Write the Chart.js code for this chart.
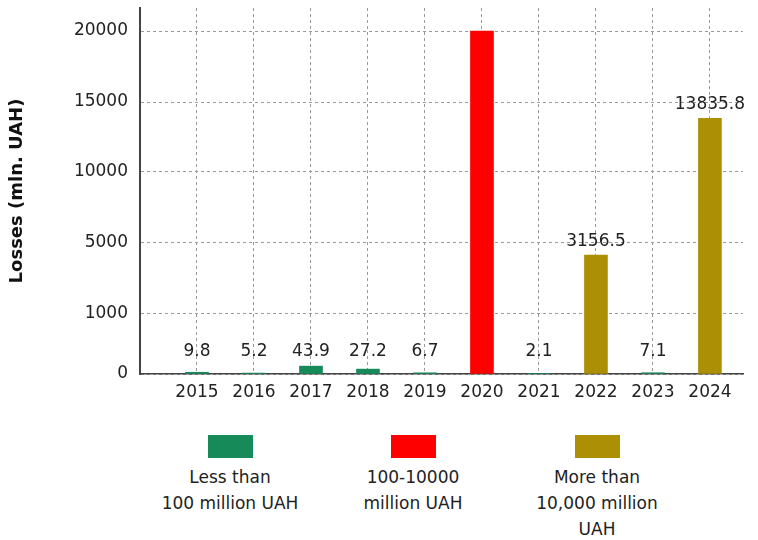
<!DOCTYPE html>
<html>
<head>
<meta charset="utf-8">
<script src="https://cdn.jsdelivr.net/npm/chart.js@4.4.1/dist/chart.umd.min.js"></script>
<style>
  body { margin: 0; background: #fff; font-family: "DejaVu Sans", sans-serif; }
  #wrap { position: relative; width: 758px; height: 540px; }
  #box { position: absolute; left: 0; top: 0; width: 758px; height: 410px; }
  #legend { position: absolute; left: 0; top: 435px; width: 758px; }
  .item { position: absolute; width: 200px; text-align: center; color: #222; font-size: 17px; line-height: 26px; }
  .swatch { width: 45px; height: 23px; margin: 0 auto 6px auto; }
</style>
</head>
<body>
<div id="wrap">
  <div id="box"><canvas id="myChart"></canvas></div>
  <div id="legend"></div>
</div>
<script>
  const years = [2015, 2016, 2017, 2018, 2019, 2020, 2021, 2022, 2023, 2024];
  const losses = [9.8, 5.2, 43.9, 27.2, 6.7, 20000, 2.1, 3156.5, 7.1, 13835.8];
  const valueText = ["9.8", "5.2", "43.9", "27.2", "6.7", "", "2.1", "3156.5", "7.1", "13835.8"];
  // группа для каждого года: 0 - меньше 100, 1 - 100-10000, 2 - больше 10000
  const groups = [0, 0, 0, 0, 0, 1, 0, 2, 0, 2];
  const groupLabels = ["Less than\n100 million UAH", "100-10000\nmillion UAH", "More than\n10,000 million\nUAH"];
  const groupColors = ["#178a5a", "#ff0000", "#ad8f05"];
  const yTicks = [0, 1000, 5000, 10000, 15000, 20000];

  // ось Y не линейная: значение -> доля высоты оси
  const yBreaks = [
    [0, 0], [100, 0.049], [1000, 0.164], [3000, 0.322],
    [5000, 0.358], [10000, 0.552], [15000, 0.743], [20000, 0.937], [21620, 1],
  ];

  function toShare(v) {
    for (let i = 1; i < yBreaks.length; i++) {
      const [v0, s0] = yBreaks[i - 1];
      const [v1, s1] = yBreaks[i];
      if (v <= v1 || i === yBreaks.length - 1) return s0 + ((v - v0) / (v1 - v0)) * (s1 - s0);
    }
  }
  function fromShare(s) {
    for (let i = 1; i < yBreaks.length; i++) {
      const [v0, s0] = yBreaks[i - 1];
      const [v1, s1] = yBreaks[i];
      if (s <= s1 || i === yBreaks.length - 1) return v0 + ((s - s0) / (s1 - s0)) * (v1 - v0);
    }
  }

  class BrokenScale extends Chart.LinearScale {
    buildTicks() {
      return yTicks.map((v) => ({ value: v }));
    }
    getPixelForValue(value) {
      return this.getPixelForDecimal(toShare(value));
    }
    getValueForPixel(pixel) {
      return fromShare(this.getDecimalForPixel(pixel));
    }
  }
  BrokenScale.id = "broken";
  BrokenScale.defaults = Chart.LinearScale.defaults;
  Chart.register(BrokenScale);

  const datasets = groupLabels.map((label, g) => ({
    label: label,
    data: years.map((y, i) => ({ x: y, y: losses[i] })).filter((p, i) => groups[i] === g),
    text: valueText.filter((t, i) => groups[i] === g),
    backgroundColor: groupColors[g],
    barThickness: 23,
    grouped: false,
  }));

  const valueLabels = {
    id: "valueLabels",
    afterDatasetsDraw(chart) {
      const ctx = chart.ctx;
      const base = chart.scales.y.getPixelForValue(0);
      ctx.save();
      ctx.font = "17px 'DejaVu Sans'";
      ctx.fillStyle = "#222";
      ctx.textAlign = "center";
      ctx.textBaseline = "middle";
      chart.data.datasets.forEach((ds, i) => {
        chart.getDatasetMeta(i).data.forEach((bar, j) => {
          const t = ds.text[j];
          if (!t) return;
          ctx.fillText(t, bar.x, Math.min(bar.y - 14, base - 22));
        });
      });
      ctx.restore();
    },
  };

  const gridColor = "#9a9a9a";
  const ctx = document.getElementById("myChart").getContext("2d");
  const myChart = new Chart(ctx, {
    type: "bar",
    data: { datasets: datasets },
    options: {
      responsive: true,
      maintainAspectRatio: false,
      animation: false,
      layout: { padding: { left: 0, right: 15, top: 8, bottom: 0 } },
      plugins: {
        legend: { display: false },
        tooltip: { enabled: false },
      },
      scales: {
        x: {
          type: "linear",
          min: 2014,
          max: 2024.58,
          offset: false,
          afterFit: (scale) => {
            scale.height = 36;
            scale.paddingLeft = 0;
            scale.paddingRight = 0;
          },
          grid: {
            offset: false,
            drawTicks: false,
            color: (c) => (c.tick && c.tick.value === 2014 ? "rgba(0,0,0,0)" : gridColor),
          },
          border: { color: "#444", width: 1.5, dash: [3, 3] },
          ticks: {
            stepSize: 1,
            includeBounds: false,
            autoSkip: false,
            maxRotation: 0,
            padding: 8,
            color: "#222",
            font: { family: "DejaVu Sans", size: 17 },
            callback: (v) => (v === 2014 ? "" : String(v)),
          },
        },
        y: {
          type: "broken",
          min: 0,
          max: 21620,
          afterFit: (scale) => {
            scale.width = 140;
            scale.paddingTop = 0;
            scale.paddingBottom = 0;
          },
          grid: { drawTicks: false, color: gridColor },
          border: { color: "#444", width: 2, dash: [3, 3] },
          ticks: {
            padding: 12,
            color: "#222",
            font: { family: "DejaVu Sans", size: 17 },
            callback: (v) => String(v),
          },
          title: {
            display: true,
            text: "Losses (mln. UAH)",
            color: "#111",
            font: { family: "DejaVu Sans", size: 18, weight: "bold" },
            padding: { top: 7, bottom: 0 },
          },
        },
      },
    },
    plugins: [valueLabels],
  });

  // легенда под графиком, подписи в несколько строк
  const legendX = [230, 413, 597];
  const legend = document.getElementById("legend");
  myChart.data.datasets.forEach((ds, i) => {
    const item = document.createElement("div");
    item.className = "item";
    item.style.left = legendX[i] - 100 + "px";
    const sw = document.createElement("div");
    sw.className = "swatch";
    sw.style.background = ds.backgroundColor;
    item.appendChild(sw);
    ds.label.split("\n").forEach((line) => {
      const d = document.createElement("div");
      d.textContent = line;
      item.appendChild(d);
    });
    legend.appendChild(item);
  });
</script>
</body>
</html>
